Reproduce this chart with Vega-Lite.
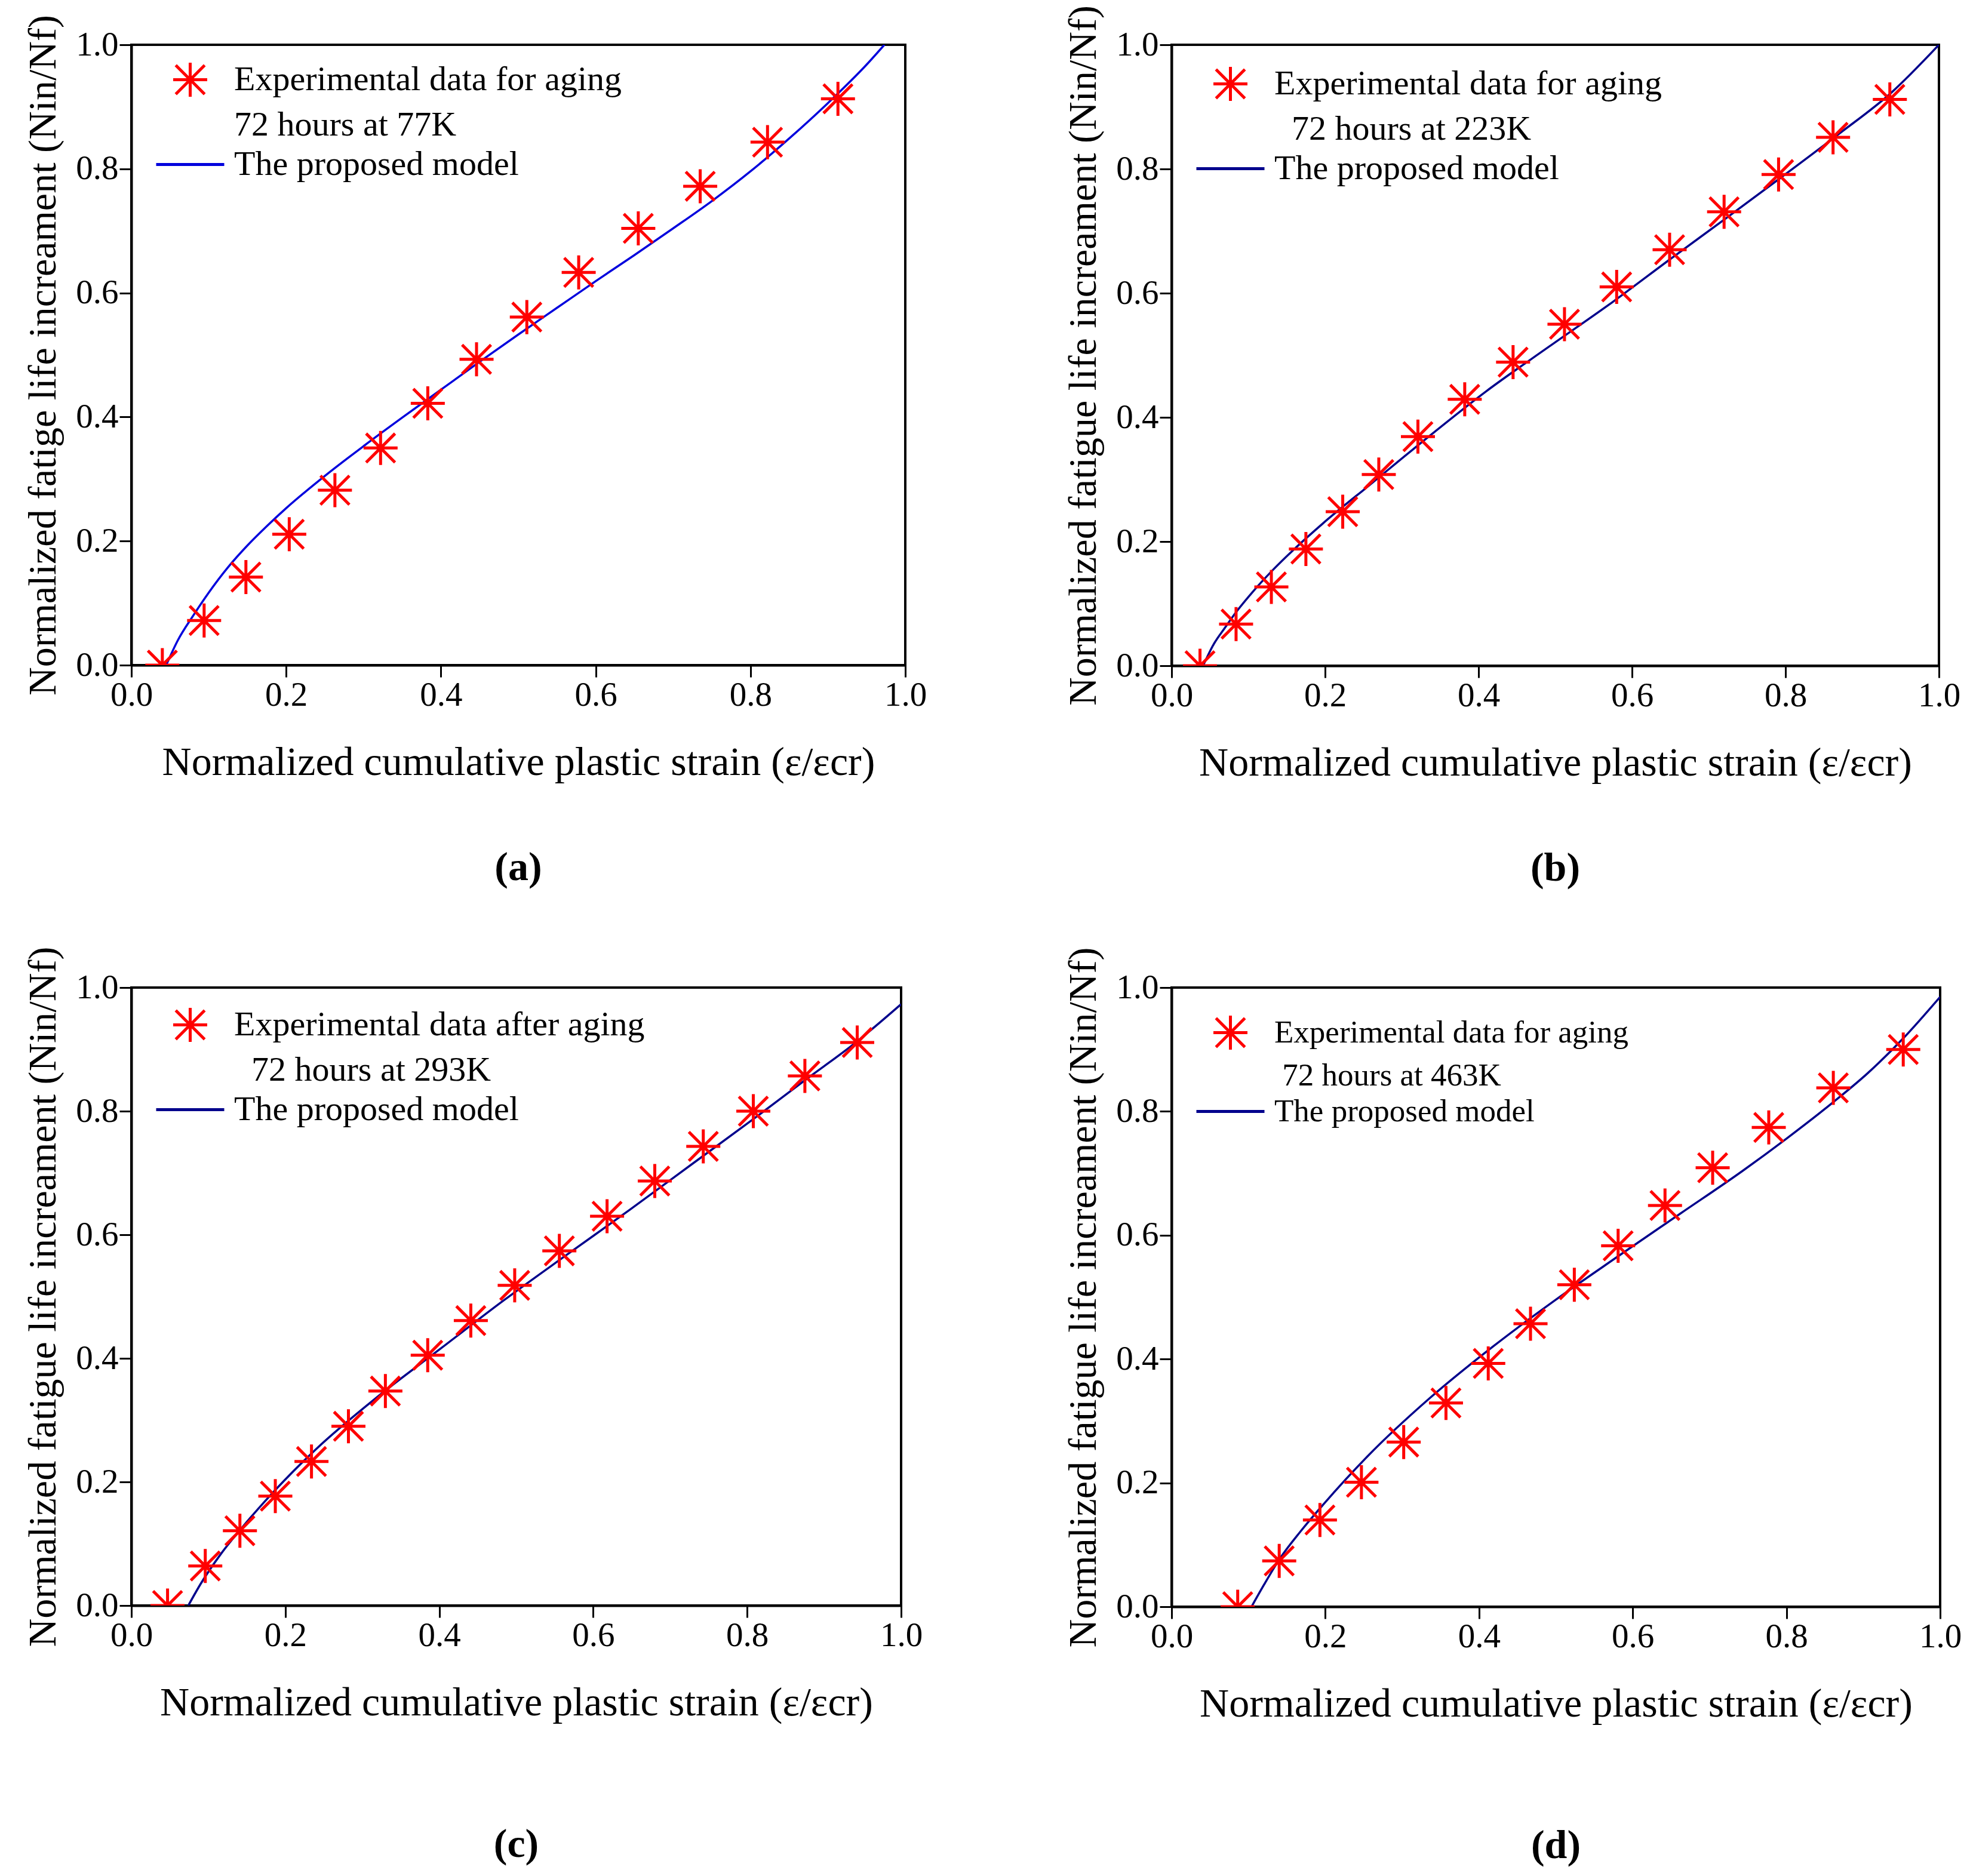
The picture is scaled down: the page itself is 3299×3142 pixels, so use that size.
{
  "$schema": "https://vega.github.io/schema/vega-lite/v6.json",
  "background": "white",
  "padding": {"left": 37, "top": 6, "right": 10, "bottom": 5},
  "datasets": {
    "xticks": [{"x": 0.2}, {"x": 0.4}, {"x": 0.6}, {"x": 0.8}],
    "yticks": [{"y": 0.2}, {"y": 0.4}, {"y": 0.6}, {"y": 0.8}],
    "a_pts": [
      {"x": 0.040, "y": 0.000}, {"x": 0.094, "y": 0.072}, {"x": 0.148, "y": 0.142}, {"x": 0.204, "y": 0.211},
      {"x": 0.263, "y": 0.282}, {"x": 0.322, "y": 0.350}, {"x": 0.383, "y": 0.422}, {"x": 0.446, "y": 0.493},
      {"x": 0.511, "y": 0.561}, {"x": 0.578, "y": 0.633}, {"x": 0.655, "y": 0.704}, {"x": 0.735, "y": 0.772},
      {"x": 0.822, "y": 0.843}, {"x": 0.913, "y": 0.913}
    ],
    "a_fit": [
      {"x": 0.045, "y": 0.000}, {"x": 0.060, "y": 0.040}, {"x": 0.080, "y": 0.080}, {"x": 0.100, "y": 0.117},
      {"x": 0.125, "y": 0.158}, {"x": 0.150, "y": 0.193}, {"x": 0.175, "y": 0.224}, {"x": 0.200, "y": 0.253},
      {"x": 0.250, "y": 0.305}, {"x": 0.300, "y": 0.353}, {"x": 0.350, "y": 0.399}, {"x": 0.400, "y": 0.444},
      {"x": 0.450, "y": 0.489}, {"x": 0.500, "y": 0.533}, {"x": 0.550, "y": 0.576}, {"x": 0.600, "y": 0.619},
      {"x": 0.650, "y": 0.661}, {"x": 0.700, "y": 0.704}, {"x": 0.750, "y": 0.748}, {"x": 0.800, "y": 0.796},
      {"x": 0.850, "y": 0.849}, {"x": 0.900, "y": 0.906}, {"x": 0.950, "y": 0.968}, {"x": 0.973, "y": 1.000}
    ],
    "b_pts": [
      {"x": 0.037, "y": 0.000}, {"x": 0.084, "y": 0.067}, {"x": 0.130, "y": 0.127}, {"x": 0.175, "y": 0.188},
      {"x": 0.223, "y": 0.248}, {"x": 0.270, "y": 0.308}, {"x": 0.321, "y": 0.369}, {"x": 0.382, "y": 0.429},
      {"x": 0.445, "y": 0.489}, {"x": 0.512, "y": 0.550}, {"x": 0.580, "y": 0.610}, {"x": 0.649, "y": 0.670},
      {"x": 0.720, "y": 0.731}, {"x": 0.791, "y": 0.791}, {"x": 0.862, "y": 0.851}, {"x": 0.936, "y": 0.912}
    ],
    "b_fit": [
      {"x": 0.041, "y": 0.000}, {"x": 0.055, "y": 0.035}, {"x": 0.070, "y": 0.062}, {"x": 0.082, "y": 0.083},
      {"x": 0.105, "y": 0.118}, {"x": 0.131, "y": 0.153}, {"x": 0.160, "y": 0.188}, {"x": 0.197, "y": 0.229},
      {"x": 0.262, "y": 0.295}, {"x": 0.328, "y": 0.362}, {"x": 0.410, "y": 0.442}, {"x": 0.492, "y": 0.514},
      {"x": 0.575, "y": 0.586}, {"x": 0.650, "y": 0.655}, {"x": 0.723, "y": 0.721}, {"x": 0.795, "y": 0.787},
      {"x": 0.868, "y": 0.855}, {"x": 0.938, "y": 0.923}, {"x": 1.000, "y": 1.000}
    ],
    "c_pts": [
      {"x": 0.047, "y": 0.000}, {"x": 0.096, "y": 0.064}, {"x": 0.141, "y": 0.121}, {"x": 0.187, "y": 0.177},
      {"x": 0.234, "y": 0.233}, {"x": 0.282, "y": 0.290}, {"x": 0.330, "y": 0.347}, {"x": 0.385, "y": 0.405},
      {"x": 0.441, "y": 0.461}, {"x": 0.498, "y": 0.518}, {"x": 0.556, "y": 0.574}, {"x": 0.618, "y": 0.630},
      {"x": 0.680, "y": 0.687}, {"x": 0.743, "y": 0.743}, {"x": 0.808, "y": 0.800}, {"x": 0.875, "y": 0.857},
      {"x": 0.943, "y": 0.911}
    ],
    "c_fit": [
      {"x": 0.074, "y": 0.000}, {"x": 0.090, "y": 0.035}, {"x": 0.116, "y": 0.083}, {"x": 0.145, "y": 0.128},
      {"x": 0.173, "y": 0.168}, {"x": 0.239, "y": 0.252}, {"x": 0.320, "y": 0.338}, {"x": 0.402, "y": 0.416},
      {"x": 0.484, "y": 0.494}, {"x": 0.565, "y": 0.567}, {"x": 0.647, "y": 0.640}, {"x": 0.728, "y": 0.714},
      {"x": 0.810, "y": 0.789}, {"x": 0.875, "y": 0.850}, {"x": 0.943, "y": 0.913}, {"x": 1.000, "y": 0.973}
    ],
    "d_pts": [
      {"x": 0.086, "y": 0.000}, {"x": 0.140, "y": 0.074}, {"x": 0.193, "y": 0.140}, {"x": 0.247, "y": 0.201},
      {"x": 0.302, "y": 0.266}, {"x": 0.357, "y": 0.329}, {"x": 0.412, "y": 0.393}, {"x": 0.467, "y": 0.457},
      {"x": 0.524, "y": 0.520}, {"x": 0.581, "y": 0.583}, {"x": 0.642, "y": 0.648}, {"x": 0.704, "y": 0.709},
      {"x": 0.777, "y": 0.774}, {"x": 0.861, "y": 0.838}, {"x": 0.952, "y": 0.900}
    ],
    "d_fit": [
      {"x": 0.104, "y": 0.000}, {"x": 0.120, "y": 0.035}, {"x": 0.141, "y": 0.078}, {"x": 0.168, "y": 0.122},
      {"x": 0.198, "y": 0.166}, {"x": 0.255, "y": 0.243}, {"x": 0.336, "y": 0.337}, {"x": 0.418, "y": 0.420},
      {"x": 0.499, "y": 0.495}, {"x": 0.581, "y": 0.566}, {"x": 0.662, "y": 0.635}, {"x": 0.743, "y": 0.704},
      {"x": 0.800, "y": 0.756}, {"x": 0.861, "y": 0.815}, {"x": 0.906, "y": 0.862}, {"x": 0.952, "y": 0.918},
      {"x": 1.000, "y": 0.985}
    ]
  },
  "config": {
    "font": "Liberation Serif",
    "view": {"stroke": "black", "strokeWidth": 4},
    "tick": {"color": "black", "opacity": 1, "thickness": 4},
    "axis": {
      "grid": false, "ticks": true, "zindex": 1,
      "domainColor": "black", "domainWidth": 4,
      "tickColor": "black", "tickWidth": 3, "tickSize": 20,
      "labelFont": "Liberation Serif", "labelFontSize": 57, "labelColor": "black", "labelPadding": 2,
      "labelFlush": false, "labelOverlap": false,
      "titleFont": "Liberation Serif", "titleFontWeight": "normal", "titleColor": "black"
    },
    "axisX": {"titlePadding": 51, "titleFontSize": 68},
    "axisY": {"titlePadding": 20, "titleFontSize": 66},
    "legend": {
      "labelFont": "Liberation Serif", "labelColor": "black", "labelLimit": 0, "padding": 0
    },
    "title": {"font": "Liberation Serif", "fontSize": 68, "fontWeight": "bold", "color": "black", "orient": "bottom", "anchor": "middle", "offset": 109}
  },
  "resolve": {
    "scale": {"color": "independent", "shape": "independent"},
    "legend": {"color": "independent", "shape": "independent"}
  },
  "columns": 2,
  "spacing": {"row": 92, "column": 225},
  "concat": [
    {
      "width": 1296, "height": 1039,
      "title": {"text": "(a)"},
      "encoding": {
        "x": {"field": "x", "type": "quantitative", "title": "Normalized cumulative plastic strain (ε/εcr)",
              "scale": {"domain": [0, 1], "nice": false},
              "axis": {"values": [0, 0.2, 0.4, 0.6, 0.8, 1], "format": ".1f", "encode": {"ticks": {"update": {"y2": {"value": -20}}}}}},
        "y": {"field": "y", "type": "quantitative", "title": "Normalized fatige life increament (Nin/Nf)",
              "scale": {"domain": [0, 1], "nice": false},
              "axis": {"values": [0, 0.2, 0.4, 0.6, 0.8, 1], "format": ".1f", "encode": {"ticks": {"update": {"x2": {"value": 20}}}}}}
      },
      "layer": [
        {
          "data": {"name": "xticks"},
          "mark": {"type": "tick", "orient": "vertical", "size": 40, "clip": true},
          "encoding": {"y": {"datum": 0, "type": "quantitative", "title": "Normalized fatige life increament (Nin/Nf)"}}
        },
        {
          "data": {"name": "yticks"},
          "mark": {"type": "tick", "orient": "horizontal", "size": 40, "clip": true},
          "encoding": {"x": {"datum": 0, "type": "quantitative", "title": "Normalized cumulative plastic strain (ε/εcr)"}}
        },
        {
          "data": {"name": "a_fit"},
          "mark": {"type": "line", "strokeWidth": 3.5, "clip": true, "interpolate": "monotone"},
          "encoding": {
            "color": {"datum": "model", "type": "nominal",
                      "scale": {"domain": ["exp", "mid", "model"], "range": ["#ff0000", "transparent", "#0000dd"]}}
          }
        },
        {
          "data": {"name": "a_pts"},
          "mark": {"type": "point", "filled": false, "strokeWidth": 5, "size": 3250, "opacity": 1, "clip": true},
          "encoding": {
            "color": {"datum": "exp", "type": "nominal",
                      "scale": {"domain": ["exp", "mid", "model"], "range": ["#ff0000", "transparent", "#0000dd"]},
                      "legend": {"title": null, "orient": "none", "legendX": 67, "legendY": 27, "symbolSize": 3250,
                                 "symbolStrokeWidth": 5, "labelFontSize": 58, "labelOffset": 42, "rowPadding": 5,
                                 "labelExpr": "datum.label == 'exp' ? 'Experimental data for aging' : datum.label == 'mid' ? '72 hours at 77K' : 'The proposed model'"}},
            "shape": {"datum": "exp", "type": "nominal",
                      "scale": {"domain": ["exp", "mid", "model"], "range": ["M-1,0H1M0,-1V1M-0.85,-0.85L0.85,0.85M-0.85,0.85L0.85,-0.85", "M0,0", "M-2,0H2"]},
                      "legend": {"title": null, "orient": "none", "legendX": 67, "legendY": 27, "symbolSize": 3250,
                                 "symbolStrokeWidth": 5, "labelFontSize": 58, "labelOffset": 42, "rowPadding": 5,
                                 "labelExpr": "datum.label == 'exp' ? 'Experimental data for aging' : datum.label == 'mid' ? '72 hours at 77K' : 'The proposed model'"}}
          }
        }
      ]
    },
    {
      "width": 1285, "height": 1040,
      "title": {"text": "(b)"},
      "encoding": {
        "x": {"field": "x", "type": "quantitative", "title": "Normalized cumulative plastic strain (ε/εcr)",
              "scale": {"domain": [0, 1], "nice": false},
              "axis": {"values": [0, 0.2, 0.4, 0.6, 0.8, 1], "format": ".1f", "encode": {"ticks": {"update": {"y2": {"value": -20}}}}}},
        "y": {"field": "y", "type": "quantitative", "title": "Normalized fatigue life increament (Nin/Nf)",
              "scale": {"domain": [0, 1], "nice": false},
              "axis": {"values": [0, 0.2, 0.4, 0.6, 0.8, 1], "format": ".1f", "encode": {"ticks": {"update": {"x2": {"value": 20}}}}}}
      },
      "layer": [
        {
          "data": {"name": "xticks"},
          "mark": {"type": "tick", "orient": "vertical", "size": 40, "clip": true},
          "encoding": {"y": {"datum": 0, "type": "quantitative", "title": "Normalized fatigue life increament (Nin/Nf)"}}
        },
        {
          "data": {"name": "yticks"},
          "mark": {"type": "tick", "orient": "horizontal", "size": 40, "clip": true},
          "encoding": {"x": {"datum": 0, "type": "quantitative", "title": "Normalized cumulative plastic strain (ε/εcr)"}}
        },
        {
          "data": {"name": "b_fit"},
          "mark": {"type": "line", "strokeWidth": 3.5, "clip": true, "interpolate": "monotone"},
          "encoding": {
            "color": {"datum": "model", "type": "nominal",
                      "scale": {"domain": ["exp", "mid", "model"], "range": ["#ff0000", "transparent", "#00008c"]}}
          }
        },
        {
          "data": {"name": "b_pts"},
          "mark": {"type": "point", "filled": false, "strokeWidth": 5, "size": 3250, "opacity": 1, "clip": true},
          "encoding": {
            "color": {"datum": "exp", "type": "nominal",
                      "scale": {"domain": ["exp", "mid", "model"], "range": ["#ff0000", "transparent", "#00008c"]},
                      "legend": {"title": null, "orient": "none", "legendX": 67, "legendY": 34, "symbolSize": 3250,
                                 "symbolStrokeWidth": 5, "labelFontSize": 58, "labelOffset": 42, "rowPadding": 5,
                                 "labelExpr": "datum.label == 'exp' ? 'Experimental data for aging' : datum.label == 'mid' ? '\u200b\u00a0\u00a072 hours at 223K' : 'The proposed model'"}},
            "shape": {"datum": "exp", "type": "nominal",
                      "scale": {"domain": ["exp", "mid", "model"], "range": ["M-1,0H1M0,-1V1M-0.85,-0.85L0.85,0.85M-0.85,0.85L0.85,-0.85", "M0,0", "M-2,0H2"]},
                      "legend": {"title": null, "orient": "none", "legendX": 67, "legendY": 34, "symbolSize": 3250,
                                 "symbolStrokeWidth": 5, "labelFontSize": 58, "labelOffset": 42, "rowPadding": 5,
                                 "labelExpr": "datum.label == 'exp' ? 'Experimental data for aging' : datum.label == 'mid' ? '\u200b\u00a0\u00a072 hours at 223K' : 'The proposed model'"}}
          }
        }
      ]
    },
    {
      "width": 1289, "height": 1035,
      "title": {"text": "(c)", "offset": 170},
      "encoding": {
        "x": {"field": "x", "type": "quantitative", "title": "Normalized cumulative plastic strain (ε/εcr)",
              "scale": {"domain": [0, 1], "nice": false},
              "axis": {"values": [0, 0.2, 0.4, 0.6, 0.8, 1], "format": ".1f", "encode": {"ticks": {"update": {"y2": {"value": -20}}}}}},
        "y": {"field": "y", "type": "quantitative", "title": "Normalized fatigue life increament (Nin/Nf)",
              "scale": {"domain": [0, 1], "nice": false},
              "axis": {"values": [0, 0.2, 0.4, 0.6, 0.8, 1], "format": ".1f", "encode": {"ticks": {"update": {"x2": {"value": 20}}}}}}
      },
      "layer": [
        {
          "data": {"name": "xticks"},
          "mark": {"type": "tick", "orient": "vertical", "size": 40, "clip": true},
          "encoding": {"y": {"datum": 0, "type": "quantitative", "title": "Normalized fatigue life increament (Nin/Nf)"}}
        },
        {
          "data": {"name": "yticks"},
          "mark": {"type": "tick", "orient": "horizontal", "size": 40, "clip": true},
          "encoding": {"x": {"datum": 0, "type": "quantitative", "title": "Normalized cumulative plastic strain (ε/εcr)"}}
        },
        {
          "data": {"name": "c_fit"},
          "mark": {"type": "line", "strokeWidth": 3.5, "clip": true, "interpolate": "monotone"},
          "encoding": {
            "color": {"datum": "model", "type": "nominal",
                      "scale": {"domain": ["exp", "mid", "model"], "range": ["#ff0000", "transparent", "#00008c"]}}
          }
        },
        {
          "data": {"name": "c_pts"},
          "mark": {"type": "point", "filled": false, "strokeWidth": 5, "size": 3250, "opacity": 1, "clip": true},
          "encoding": {
            "color": {"datum": "exp", "type": "nominal",
                      "scale": {"domain": ["exp", "mid", "model"], "range": ["#ff0000", "transparent", "#00008c"]},
                      "legend": {"title": null, "orient": "none", "legendX": 67, "legendY": 31, "symbolSize": 3250,
                                 "symbolStrokeWidth": 5, "labelFontSize": 58, "labelOffset": 42, "rowPadding": 5,
                                 "labelExpr": "datum.label == 'exp' ? 'Experimental data after aging' : datum.label == 'mid' ? '\u200b\u00a0\u00a072 hours at 293K' : 'The proposed model'"}},
            "shape": {"datum": "exp", "type": "nominal",
                      "scale": {"domain": ["exp", "mid", "model"], "range": ["M-1,0H1M0,-1V1M-0.85,-0.85L0.85,0.85M-0.85,0.85L0.85,-0.85", "M0,0", "M-2,0H2"]},
                      "legend": {"title": null, "orient": "none", "legendX": 67, "legendY": 31, "symbolSize": 3250,
                                 "symbolStrokeWidth": 5, "labelFontSize": 58, "labelOffset": 42, "rowPadding": 5,
                                 "labelExpr": "datum.label == 'exp' ? 'Experimental data after aging' : datum.label == 'mid' ? '\u200b\u00a0\u00a072 hours at 293K' : 'The proposed model'"}}
          }
        }
      ]
    },
    {
      "width": 1287, "height": 1037,
      "title": {"text": "(d)", "offset": 170},
      "encoding": {
        "x": {"field": "x", "type": "quantitative", "title": "Normalized cumulative plastic strain (ε/εcr)",
              "scale": {"domain": [0, 1], "nice": false},
              "axis": {"values": [0, 0.2, 0.4, 0.6, 0.8, 1], "format": ".1f", "encode": {"ticks": {"update": {"y2": {"value": -20}}}}}},
        "y": {"field": "y", "type": "quantitative", "title": "Normalized fatigue life increament (Nin/Nf)",
              "scale": {"domain": [0, 1], "nice": false},
              "axis": {"values": [0, 0.2, 0.4, 0.6, 0.8, 1], "format": ".1f", "encode": {"ticks": {"update": {"x2": {"value": 20}}}}}}
      },
      "layer": [
        {
          "data": {"name": "xticks"},
          "mark": {"type": "tick", "orient": "vertical", "size": 40, "clip": true},
          "encoding": {"y": {"datum": 0, "type": "quantitative", "title": "Normalized fatigue life increament (Nin/Nf)"}}
        },
        {
          "data": {"name": "yticks"},
          "mark": {"type": "tick", "orient": "horizontal", "size": 40, "clip": true},
          "encoding": {"x": {"datum": 0, "type": "quantitative", "title": "Normalized cumulative plastic strain (ε/εcr)"}}
        },
        {
          "data": {"name": "d_fit"},
          "mark": {"type": "line", "strokeWidth": 3.5, "clip": true, "interpolate": "monotone"},
          "encoding": {
            "color": {"datum": "model", "type": "nominal",
                      "scale": {"domain": ["exp", "mid", "model"], "range": ["#ff0000", "transparent", "#00008c"]}}
          }
        },
        {
          "data": {"name": "d_pts"},
          "mark": {"type": "point", "filled": false, "strokeWidth": 5, "size": 3250, "opacity": 1, "clip": true},
          "encoding": {
            "color": {"datum": "exp", "type": "nominal",
                      "scale": {"domain": ["exp", "mid", "model"], "range": ["#ff0000", "transparent", "#00008c"]},
                      "legend": {"title": null, "orient": "none", "legendX": 67, "legendY": 44, "symbolSize": 3250,
                                 "symbolStrokeWidth": 5, "labelFontSize": 53, "labelOffset": 42, "rowPadding": 1,
                                 "labelExpr": "datum.label == 'exp' ? 'Experimental data for aging' : datum.label == 'mid' ? '\u200b\u00a072 hours at 463K' : 'The proposed model'"}},
            "shape": {"datum": "exp", "type": "nominal",
                      "scale": {"domain": ["exp", "mid", "model"], "range": ["M-1,0H1M0,-1V1M-0.85,-0.85L0.85,0.85M-0.85,0.85L0.85,-0.85", "M0,0", "M-2,0H2"]},
                      "legend": {"title": null, "orient": "none", "legendX": 67, "legendY": 44, "symbolSize": 3250,
                                 "symbolStrokeWidth": 5, "labelFontSize": 53, "labelOffset": 42, "rowPadding": 1,
                                 "labelExpr": "datum.label == 'exp' ? 'Experimental data for aging' : datum.label == 'mid' ? '\u200b\u00a072 hours at 463K' : 'The proposed model'"}}
          }
        }
      ]
    }
  ]
}
